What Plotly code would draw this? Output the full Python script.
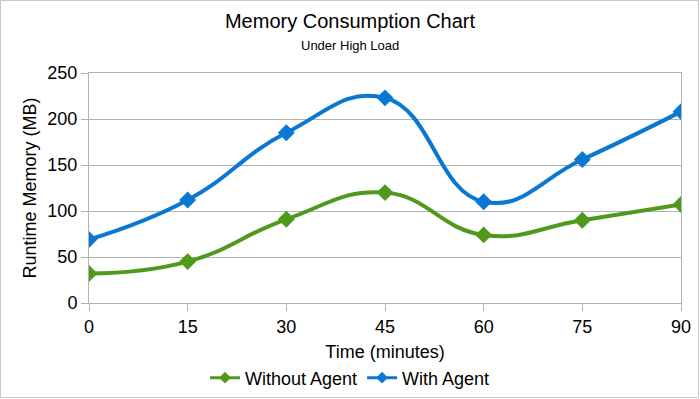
import plotly.graph_objects as go

time_min = [0, 15, 30, 45, 60, 75, 90]
without_agent = [32, 45, 91, 120, 74, 90, 107]
with_agent = [69, 112, 185, 223, 110, 156, 208]
x_ticks = [0, 15, 30, 45, 60, 75, 90]
y_ticks = [0, 50, 100, 150, 200, 250]

GREEN = "#4f9a1d"
BLUE = "#0a78d2"
FONT = "Liberation Sans, Arial, sans-serif"

fig = go.Figure()
for name, vals, col in [("Without Agent", without_agent, GREEN), ("With Agent", with_agent, BLUE)]:
    fig.add_trace(go.Scatter(
        x=time_min, y=vals, name=name, mode="lines+markers", showlegend=False,
        line=dict(color=col, width=4, shape="spline", smoothing=1.3),
        marker=dict(symbol="diamond", size=13, color=col),
    ))
    # legend entry with a small marker
    fig.add_trace(go.Scatter(
        x=[None], y=[None], name=name, mode="lines+markers",
        line=dict(color=col, width=3),
        marker=dict(symbol="diamond", size=9, color=col),
    ))

L, R, T, B = 89, 19, 73, 96
W, H = 700, 399
pw, ph = W - L - R, H - T - B

fig.update_layout(
    width=W, height=H,
    margin=dict(l=L, r=R, t=T, b=B, pad=0, autoexpand=False),
    paper_bgcolor="white", plot_bgcolor="white",
    font=dict(family=FONT, color="#000000", size=18),
    title=dict(text="Memory Consumption Chart", x=0.5, xanchor="center",
               y=1 - 21 / H, yanchor="middle", font=dict(size=20, family=FONT)),
    annotations=[dict(text="Under High Load", xref="paper", yref="paper",
                      x=(350 - L) / pw, y=1 + (T - 45) / ph, xanchor="center", yanchor="middle",
                      showarrow=False, font=dict(size=13, family=FONT))],
    showlegend=True,
    legend=dict(orientation="h", x=(350 - L) / pw, xanchor="center",
                y=-(378 - (H - B)) / ph, yanchor="middle",
                font=dict(size=18, family=FONT), itemwidth=30, bgcolor="rgba(0,0,0,0)",
                tracegroupgap=0),
    shapes=[dict(type="rect", xref="paper", yref="paper",
                 x0=-(L - 0.5) / pw, x1=1 + (R - 1.5) / pw,
                 y0=-(B - 1.5) / ph, y1=1 + (T - 0.5) / ph,
                 line=dict(color="#c8c8c8", width=1), fillcolor="rgba(0,0,0,0)", layer="below")],
)
fig.update_xaxes(
    range=[0, 90], tickvals=x_ticks, ticktext=[str(v) for v in x_ticks], automargin=False,
    showgrid=False, zeroline=False, showline=True, linecolor="#b3b3b3", linewidth=1, mirror=True,
    ticks="outside", ticklen=7, tickcolor="#b3b3b3", tickfont=dict(size=18),
    title=dict(text="Time (minutes)", font=dict(size=18), standoff=9),
)
fig.update_yaxes(
    range=[0, 250], tickvals=y_ticks, ticktext=[str(v) for v in y_ticks], automargin=False,
    showgrid=True, gridcolor="#b3b3b3", gridwidth=1, zeroline=False,
    showline=True, linecolor="#b3b3b3", linewidth=1, mirror=True,
    ticks="outside", ticklen=7, tickcolor="#b3b3b3", tickfont=dict(size=18),
    title=dict(text="Runtime Memory (MB)", font=dict(size=18), standoff=6),
)

fig.write_html("out.html", config={"displayModeBar": False},
               post_script="document.body.style.margin='0';document.body.style.overflow='hidden';")
